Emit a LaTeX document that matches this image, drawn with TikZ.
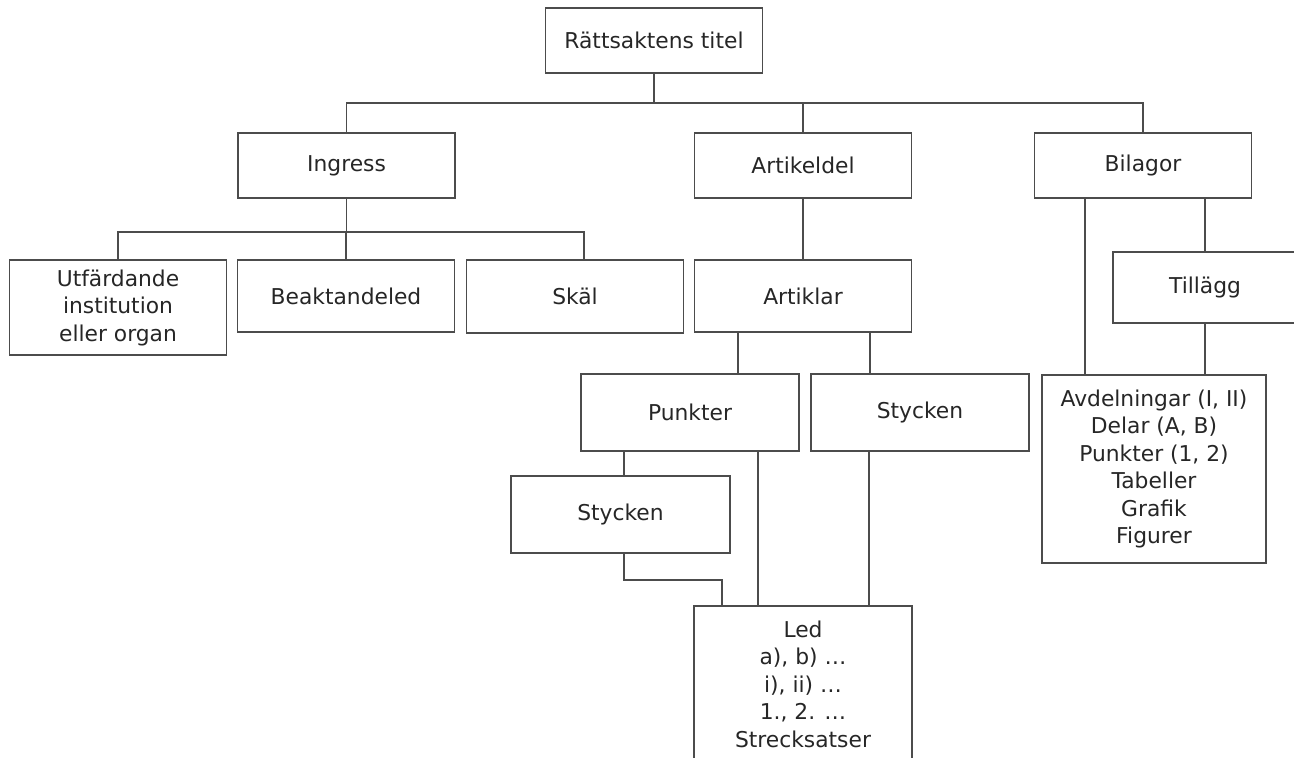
\documentclass[tikz,border=0pt]{standalone}
\usepackage{fontspec}
\setmainfont{DejaVu Sans}
\usepackage{tikz}

\begin{document}
\begin{tikzpicture}[x=1pt, y=-1pt,
    ruta/.style={draw=black!70, line width=1.7pt, rectangle, align=center,
        inner sep=0pt, minimum width=217pt, minimum height=65pt,
        text=black!85, font=\fontsize{21.8}{27.5}\selectfont},
    linje/.style={draw=black!70, line width=1.5pt}]
    \useasboundingbox (0,0) rectangle (1294,758);
    \clip (0,0) rectangle (1294,758);

    % rättsaktens titel
    \node[ruta] (titel) at (654,40.5) {Rättsaktens titel};

    % ingress, artikeldel, bilagor
    \node[ruta] (ingress) at (346.5,165.5) {Ingress};
    \node[ruta] (artikeldel) at (803,165.5) {Artikeldel};
    \node[ruta] (bilagor) at (1143,165.5) {Bilagor};

    % ingressens delar
    \node[ruta, minimum height=95pt] (utf) at (118,307.5) {Utfärdande\\institution\\eller organ};
    \node[ruta, minimum height=72pt] (beakt) at (346,296) {Beaktandeled};
    \node[ruta, minimum height=73pt] (skal) at (575,296.5) {Skäl};

    % artiklar och tillägg
    \node[ruta, minimum height=72pt] (artiklar) at (803,296) {Artiklar};
    \node[ruta, minimum width=184pt, minimum height=71pt] (tillagg) at (1205,287.5) {Tillägg};

    % punkter och stycken
    \node[ruta, minimum width=218pt, minimum height=77pt] (punkter) at (690,412.5) {Punkter};
    \node[ruta, minimum width=218pt, minimum height=77pt] (stycken) at (920,412.5) {Stycken};
    \node[ruta, minimum width=219pt, minimum height=77pt] (styckenp) at (620.5,514.5) {Stycken};

    % bilagornas innehåll
    \node[ruta, minimum width=224pt, minimum height=188pt] (bilinnehall) at (1154,469)
        {Avdelningar (I, II)\\Delar (A, B)\\Punkter (1, 2)\\Tabeller\\Grafik\\Figurer};

    % led
    \node[ruta, minimum width=218pt, minimum height=0pt, inner ysep=15pt, text depth=30pt,
        anchor=north] (led) at (803,605)
        {Led\\a), b) \dots\\i), ii) \dots\\1., 2. \dots\\Strecksatser};

    % titel -> nivå 1
    \coordinate (buss1) at (654,103);
    \draw[linje] (titel.south) -- (buss1);
    \draw[linje] (ingress.north) |- (buss1) -| (bilagor.north);
    \draw[linje] (artikeldel.north) -- (artikeldel.north |- buss1);

    % ingress -> nivå 2
    \coordinate (buss2) at (346.5,232);
    \draw[linje] (ingress.south) -- (buss2);
    \draw[linje] (utf.north) |- (buss2) -| ([xshift=9pt]skal.north);
    \draw[linje] (beakt.north) -- (beakt.north |- buss2);

    % artikeldel
    \draw[linje] (artikeldel) -- (artiklar);
    \draw[linje] ([xshift=-65pt]artiklar.south) -- ([xshift=48pt]punkter.north);
    \draw[linje] ([xshift=67pt]artiklar.south) -- ([xshift=-50pt]stycken.north);

    % bilagor
    \draw[linje] ([xshift=-58pt]bilagor.south) -- ([xshift=-69pt]bilinnehall.north);
    \draw[linje] ([xshift=62pt]bilagor.south) -- (tillagg.north);
    \draw[linje] (tillagg.south) -- ([xshift=51pt]bilinnehall.north);

    % punkter, stycken -> led
    \draw[linje] ([xshift=-66pt]punkter.south) -- ([xshift=3.5pt]styckenp.north);
    \draw[linje] ([xshift=3.5pt]styckenp.south) -- ++(0,26) -| ([xshift=-81pt]led.north);
    \draw[linje] ([xshift=68pt]punkter.south) -- ([xshift=-45pt]led.north);
    \draw[linje] ([xshift=-51pt]stycken.south) -- ([xshift=66pt]led.north);
\end{tikzpicture}
\end{document}
